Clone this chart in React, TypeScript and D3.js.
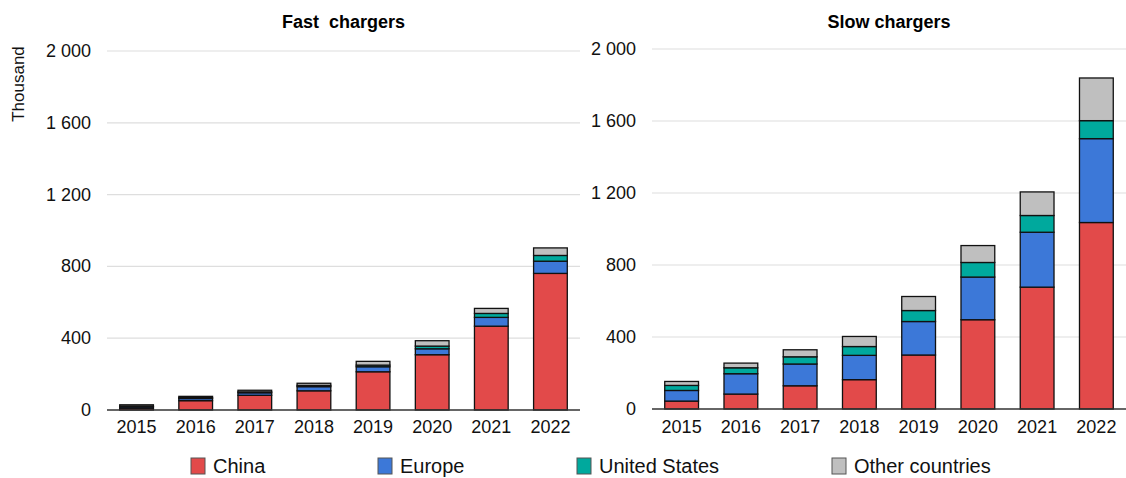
import React from 'react';
import * as d3 from 'd3';

const years = ['2015', '2016', '2017', '2018', '2019', '2020', '2021', '2022'];
const seriesNames = ['China', 'Europe', 'United States', 'Other countries'];
const seriesColors = ['#e24a4a', '#3c78d8', '#00a99d', '#bfbfbf'];

// fast chargers, thousand
const fastChina = [10, 52, 82, 107, 213, 308, 467, 761];
const fastEurope = [8, 12, 14, 23, 28, 33, 49, 68];
const fastUS = [3, 5, 5, 7, 9, 15, 22, 32];
const fastOther = [8, 7, 9, 12, 21, 30, 28, 42];

// slow chargers, thousand
const slowChina = [44, 83, 129, 163, 300, 496, 677, 1036];
const slowEurope = [59, 113, 121, 135, 186, 237, 305, 466];
const slowUS = [28, 33, 40, 49, 61, 81, 93, 100];
const slowOther = [22, 26, 39, 56, 78, 94, 131, 237];

const yTicks = [0, 400, 800, 1200, 1600, 2000];

const W = 1126;
const H = 478;
const FONT = '"Liberation Sans", Arial, sans-serif';

const fmt = (v: number) => d3.format(',')(v).replace(/,/g, ' ');

type PanelProps = {
  title: string;
  series: number[][];
  x0: number;
  x1: number;
  yTop: number;
  yBottom: number;
};

function Panel({ title, series, x0, x1, yTop, yBottom }: PanelProps) {
  const x = d3.scaleBand<string>().domain(years).range([x0, x1]).paddingInner(0.43).paddingOuter(0.215);
  const y = d3.scaleLinear().domain([0, 2000]).range([yBottom, yTop]);

  const rows = years.map((yr, i) => {
    const r: any = { year: yr };
    seriesNames.forEach((s, k) => (r[s] = series[k][i]));
    return r;
  });
  const stacked = d3.stack<any>().keys(seriesNames)(rows);

  return (
    <g>
      <text x={(x0 + x1) / 2} y={22} textAnchor="middle" dominantBaseline="central"
        fontFamily={FONT} fontWeight="bold" fontSize={18} fill="#000">{title}</text>
      {yTicks.map((t) => (
        <g key={t}>
          {t > 0 && <line x1={x0} x2={x1} y1={y(t)} y2={y(t)} stroke="#dedede" strokeWidth={1.2} />}
          <text x={x0 - 16} y={y(t)} textAnchor="end" dominantBaseline="central"
            fontFamily={FONT} fontSize={18} fill="#111">{fmt(t)}</text>
        </g>
      ))}
      {stacked.map((layer, k) => (
        <g key={layer.key} fill={seriesColors[k]}>
          {layer.map((d, i) => (
            <rect key={i} x={x(years[i])} width={x.bandwidth()}
              y={y(d[1])} height={y(d[0]) - y(d[1])}
              stroke="#111" strokeWidth={1.3} />
          ))}
        </g>
      ))}
      <line x1={x0} x2={x1} y1={y(0)} y2={y(0)} stroke="#333" strokeWidth={1.5} />
      {years.map((yr) => (
        <text key={yr} x={(x(yr) ?? 0) + x.bandwidth() / 2} y={427} textAnchor="middle"
          dominantBaseline="central" fontFamily={FONT} fontSize={18} fill="#111">{yr}</text>
      ))}
    </g>
  );
}

const legendX = [191, 378, 577, 832];

export default function App() {
  return (
    <svg width={W} height={H} style={{ position: 'absolute', left: 0, top: 0, background: '#fff' }}>
      <text transform="translate(18,84) rotate(-90)" textAnchor="middle" dominantBaseline="central"
        fontFamily={FONT} fontSize={17} fill="#111">Thousand</text>
      <Panel title={'Fast\u00a0 chargers'} series={[fastChina, fastEurope, fastUS, fastOther]}
        x0={107} x1={580} yTop={51} yBottom={410} />
      <Panel title="Slow chargers" series={[slowChina, slowEurope, slowUS, slowOther]}
        x0={652} x1={1126} yTop={49} yBottom={409} />
      {seriesNames.map((s, k) => (
        <g key={s} transform={`translate(${legendX[k]},466)`}>
          <rect x={0} y={-8} width={14} height={16} fill={seriesColors[k]} stroke="#555" strokeWidth={1} />
          <text x={22} y={0} dominantBaseline="central" fontFamily={FONT} fontSize={20} fill="#111">{s}</text>
        </g>
      ))}
    </svg>
  );
}
